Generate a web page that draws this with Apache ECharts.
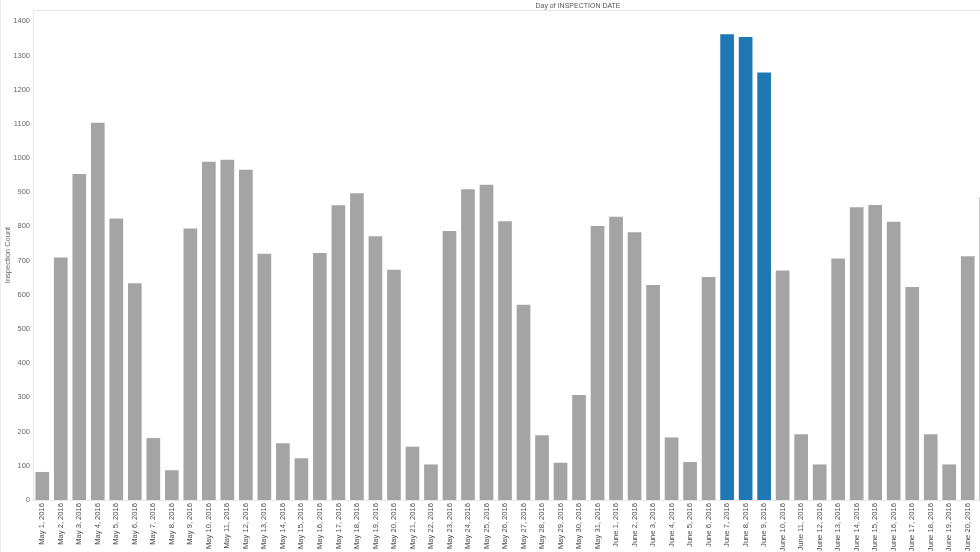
<!DOCTYPE html>
<html>
<head>
<meta charset="utf-8">
<script src="https://cdn.jsdelivr.net/npm/echarts@6/dist/echarts.min.js"></script>
<style>
html,body{margin:0;padding:0;background:#fff;}
#c{width:980px;height:552px;}
</style>
</head>
<body>
<div id="c"></div>
<script>
const categories = [
  "May 1, 2016","May 2, 2016","May 3, 2016","May 4, 2016","May 5, 2016","May 6, 2016","May 7, 2016","May 8, 2016",
  "May 9, 2016","May 10, 2016","May 11, 2016","May 12, 2016","May 13, 2016","May 14, 2016","May 15, 2016","May 16, 2016",
  "May 17, 2016","May 18, 2016","May 19, 2016","May 20, 2016","May 21, 2016","May 22, 2016","May 23, 2016","May 24, 2016",
  "May 25, 2016","May 26, 2016","May 27, 2016","May 28, 2016","May 29, 2016","May 30, 2016","May 31, 2016",
  "June 1, 2016","June 2, 2016","June 3, 2016","June 4, 2016","June 5, 2016","June 6, 2016","June 7, 2016","June 8, 2016",
  "June 9, 2016","June 10, 2016","June 11, 2016","June 12, 2016","June 13, 2016","June 14, 2016","June 15, 2016",
  "June 16, 2016","June 17, 2016","June 18, 2016","June 19, 2016","June 20, 2016","June 21, 2016"
];
const inspectionCounts = [
  82, 709, 953, 1103, 823, 634, 181, 87,
  794, 989, 995, 966, 720, 166, 122, 722,
  862, 897, 771, 673, 156, 104, 787, 909,
  922, 815, 571, 189, 109, 307, 801,
  828, 783, 629, 183, 111, 652, 1362, 1354,
  1250, 671, 192, 104, 706, 856, 863,
  814, 623, 192, 104, 713, 886
];
const highlighted = ["June 7, 2016","June 8, 2016","June 9, 2016"];
const yTicks = [0,100,200,300,400,500,600,700,800,900,1000,1100,1200,1300,1400];

const GRAY = '#a4a4a4', BLUE = '#1f77b4';
const chart = echarts.init(document.getElementById('c'), null, {renderer:'canvas'});
const FONT = 'Arial, "Liberation Sans", sans-serif';

chart.setOption({
  animation:false,
  backgroundColor:'#ffffff',
  grid:{left:33, top:11, width:962.5, bottom:52, containLabel:false, outerBoundsMode:'none'},
  xAxis:{
    type:'category',
    data:categories,
    axisLine:{show:true, lineStyle:{color:'#e8e8e8', width:1}},
    axisTick:{show:false},
    axisLabel:{
      interval:0, rotate:90, margin:3,
      fontSize:7.6, color:'#4a4a4a', fontFamily:FONT
    }
  },
  yAxis:{
    type:'value', min:0, max:1430, interval:100,
    axisLine:{show:true, lineStyle:{color:'#e6e6e6', width:1}},
    axisTick:{show:false},
    splitLine:{show:false},
    axisLabel:{
      margin:3, fontSize:7.5, color:'#666', fontFamily:FONT,
      formatter:function(v){ return yTicks.indexOf(v) >= 0 ? String(v) : ''; }
    }
  },
  series:[{
    type:'bar',
    barCategoryGap:'26%',
    data:inspectionCounts.map(function(v,i){
      return {value:v, itemStyle:{color: highlighted.indexOf(categories[i])>=0 ? BLUE : GRAY}};
    })
  }],
  graphic:[
    {type:'line', shape:{x1:33, y1:10.5, x2:980, y2:10.5}, style:{stroke:'#e6e6e6', lineWidth:1}, silent:true},
    {type:'line', shape:{x1:0.5, y1:0, x2:0.5, y2:552}, style:{stroke:'#ececec', lineWidth:1}, silent:true},
    {type:'text', x:578, y:6, style:{text:'Day of INSPECTION DATE', fontSize:7, fill:'#555', fontFamily:FONT, align:'center', verticalAlign:'middle'}, silent:true},
    {type:'text', x:8, y:255, rotation:Math.PI/2, style:{text:'Inspection Count', fontSize:7.5, fill:'#666', fontFamily:FONT, align:'center', verticalAlign:'middle'}, silent:true}
  ]
});
</script>
</body>
</html>
